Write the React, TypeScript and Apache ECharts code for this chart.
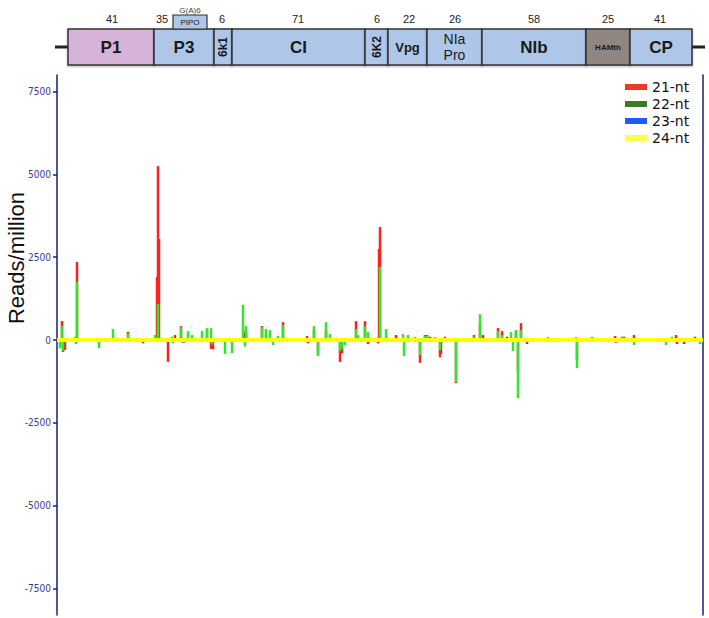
import React, { useEffect, useRef } from "react";
import * as echarts from "echarts";

// genome map (kDa sizes and gene names)
const geneNames = ["P1", "P3", "6k1", "CI", "6K2", "Vpg", "NIa\nPro", "NIb", "HAMth", "CP"];
const geneKDa = ["41", "35", "6", "71", "6", "22", "26", "58", "25", "41"];

// y-axis tick labels
const yTicks = [-7500, -5000, -2500, 0, 2500, 5000, 7500];

// [genome position (nt), reads/million]
const nt21: [number, number][] = [
  [75, 575], [90, -360], [120, -300], [300, 2355], [540, -50], [1065, 250], [1230, -60], [1290, -100],
  [1500, 1900], [1515, 5250], [1530, 3050], [1665, -660], [1770, 150], [1860, 420], [1890, -90],
  [2250, 330], [2310, -270], [2340, -280], [2625, -90], [2715, -60], [2805, 250], [2835, 300],
  [2940, 60], [3075, 420], [3135, 180], [3390, 540], [3750, 120], [3765, -100], [3855, 300],
  [3915, -420], [4035, 300], [4245, -660], [4275, -400], [4485, 570], [4620, 570], [4665, -120],
  [4815, -100], [4830, 2750], [4845, 3410], [5085, 150], [5445, -690], [5520, 150], [5550, 150],
  [5595, 100], [5745, -520], [5760, -420], [5820, 100], [5985, -1300], [6255, 150], [6345, 480],
  [6390, 150], [6615, 360], [6675, 270], [6750, 100], [6885, 270], [6915, -970], [6960, 510],
  [7050, -120], [7800, -600], [8025, 60], [8370, 120], [8385, -80], [8475, 100], [8505, 100],
  [8655, 150], [9285, 150], [9300, -120], [9405, -120], [9570, 100], [9585, -60],
];

const nt22: [number, number][] = [
  [45, -250], [75, 420], [90, -330], [270, 100], [285, -120], [300, 1750], [375, 60], [630, -250],
  [840, 330], [1065, 200], [1230, 60], [1470, 150], [1515, 1090], [1725, 100], [1740, -100],
  [1860, 390], [1905, -90], [1965, 270], [2025, 150], [2175, 270], [2250, 360], [2310, 360],
  [2325, -130], [2520, -420], [2625, -400], [2790, 1060], [2820, -200], [2835, 420], [3075, 390],
  [3135, 330], [3195, 300], [3240, -150], [3315, 120], [3390, 450], [3585, -60], [3690, 60],
  [3855, 420], [3915, -480], [4035, 540], [4095, 180], [4245, -330], [4275, -260], [4320, -150],
  [4485, 330], [4515, 150], [4620, 420], [4665, 240], [4845, 2200], [4935, 330], [5190, 180],
  [5205, -480], [5265, 150], [5370, 90], [5445, -450], [5520, 120], [5550, 120], [5595, 60],
  [5670, 90], [5745, -300], [5985, -1270], [6255, 100], [6345, 780], [6615, 270], [6675, 150],
  [6810, 240], [6840, -330], [6885, 300], [6915, -1750], [6960, 300], [7365, 90], [7785, 90],
  [7800, -850], [8025, 100], [8040, -60], [8475, 90], [8655, -150], [8910, -60], [9135, -150],
  [9225, 100], [9645, -120],
];

const nt23: [number, number][] = [
  [300, 60], [840, 60], [1515, 60], [2310, -60], [2790, 60], [3390, 60], [4605, 60], [4845, 60],
  [4935, 60], [5985, -60], [6345, 60], [6915, -60],
];

const nt24: [number, number][] = [
  [0, 0], [1200, 0], [2400, 0], [3600, 0], [4800, 0], [6000, 0], [7200, 0], [8400, 0], [9690, 0],
];

const X_MAX = 9690;

function buildGraphic() {
  const boxes = [
    [68, 154, "#d6b3d9"], [154, 214, "#aec6e8"], [214, 232, "#aec6e8"], [232, 365, "#aec6e8"],
    [365, 388, "#aec6e8"], [388, 427, "#aec6e8"], [427, 482, "#aec6e8"], [482, 586, "#aec6e8"],
    [586, 630, "#8f8681"], [630, 692, "#aec6e8"],
  ] as [number, number, string][];
  const labelStyle = [
    { size: 17, bold: true, rot: 0 }, { size: 17, bold: true, rot: 0 }, { size: 12, bold: true, rot: Math.PI / 2 },
    { size: 17, bold: true, rot: 0 }, { size: 12, bold: true, rot: Math.PI / 2 }, { size: 13, bold: true, rot: 0 },
    { size: 14, bold: false, rot: 0 }, { size: 17, bold: true, rot: 0 }, { size: 8, bold: true, rot: 0 },
    { size: 17, bold: true, rot: 0 },
  ];
  const kdaX = [112, 162, 222, 298, 377, 409, 455, 534, 608, 660];
  const els: any[] = [];
  els.push({ type: "line", shape: { x1: 55, y1: 47, x2: 68, y2: 47 }, style: { stroke: "#222", lineWidth: 3 } });
  els.push({ type: "line", shape: { x1: 692, y1: 47, x2: 705, y2: 47 }, style: { stroke: "#222", lineWidth: 3 } });
  boxes.forEach(([x0, x1, fill], i) => {
    els.push({
      type: "rect",
      shape: { x: x0, y: 29, width: x1 - x0, height: 36 },
      style: { fill, stroke: "#333", lineWidth: 1.5, shadowBlur: 2, shadowColor: "rgba(0,0,0,0.3)", shadowOffsetY: 1 },
    });
    const ls = labelStyle[i];
    els.push({
      type: "text",
      x: (x0 + x1) / 2,
      y: 47,
      rotation: ls.rot,
      style: {
        text: geneNames[i],
        fontSize: ls.size,
        fontWeight: ls.bold ? "bold" : "normal",
        fontFamily: "Liberation Sans, Arial, sans-serif",
        fill: "#1a1a1a",
        textAlign: "center",
        textVerticalAlign: "middle",
        lineHeight: ls.size + 2,
      },
      z: 10,
    });
    els.push({
      type: "text",
      x: kdaX[i],
      y: 19,
      style: {
        text: geneKDa[i],
        fontSize: 11,
        fontFamily: "Liberation Sans, Arial, sans-serif",
        fill: "#222",
        textAlign: "center",
        textVerticalAlign: "middle",
      },
    });
  });
  els.push({
    type: "rect",
    shape: { x: 173, y: 15, width: 34, height: 14 },
    style: { fill: "#aec6e8", stroke: "#333", lineWidth: 1.2 },
  });
  els.push({
    type: "text", x: 190, y: 22,
    style: { text: "PIPO", fontSize: 8, fontFamily: "Liberation Sans, Arial, sans-serif", fill: "#222", textAlign: "center", textVerticalAlign: "middle" },
    z: 10,
  });
  els.push({
    type: "text", x: 190, y: 10,
    style: { text: "G(A)6", fontSize: 8, fontFamily: "Liberation Sans, Arial, sans-serif", fill: "#444", textAlign: "center", textVerticalAlign: "middle" },
  });
  els.push({
    type: "text", x: 16, y: 258, rotation: Math.PI / 2,
    style: { text: "Reads/million", fontSize: 22, fontFamily: "Liberation Sans, Arial, sans-serif", fill: "#111", textAlign: "center", textVerticalAlign: "middle" },
  });
  return els;
}

export default function App() {
  const ref = useRef<HTMLDivElement>(null);
  useEffect(() => {
    if (!ref.current) return;
    const chart = echarts.init(ref.current, null, { renderer: "svg" });
    const barCommon = { type: "bar", barWidth: 2.5, barGap: "-100%", xAxisIndex: 0, yAxisIndex: 0 };
    chart.setOption({
      animation: false,
      backgroundColor: "#fff",
      graphic: buildGraphic(),
      grid: { left: 57, right: 6, top: 75, bottom: 3, containLabel: false },
      legend: {
        orient: "vertical",
        left: 620,
        top: 75,
        itemWidth: 22,
        itemHeight: 6,
        itemGap: 3,
        icon: "rect",
        textStyle: { fontSize: 14, color: "#111", fontFamily: "DejaVu Sans, sans-serif", lineHeight: 14 },
        data: [
          { name: "21-nt", itemStyle: { color: "#e8392a" } },
          { name: "22-nt", itemStyle: { color: "#3b7a22" } },
          { name: "23-nt", itemStyle: { color: "#1a5cff" } },
          { name: "24-nt", itemStyle: { color: "#ffff44" } },
        ],
      },
      xAxis: {
        type: "value",
        min: 0,
        max: X_MAX,
        show: false,
      },
      yAxis: [
        {
          type: "value",
          min: -8300,
          max: 8000,
          splitLine: { show: false },
          axisLine: { show: true, lineStyle: { color: "#1c1c7a", width: 1.5 } },
          axisTick: { show: true, length: 4, customValues: yTicks, lineStyle: { color: "#1c1c7a", width: 1.5 } },
          axisLabel: {
            customValues: yTicks,
            formatter: (v: number) => String(v),
            fontSize: 10,
            color: "#3a3a96",
            margin: 6,
            fontFamily: "DejaVu Sans Condensed, DejaVu Sans, sans-serif",
          },
        },
        {
          type: "value",
          position: "right",
          min: -8300,
          max: 8000,
          splitLine: { show: false },
          axisLine: { show: true, lineStyle: { color: "#1c1c7a", width: 1.5 } },
          axisTick: { show: false },
          axisLabel: { show: false },
        },
      ],
      series: [
        { ...barCommon, name: "21-nt", data: nt21, itemStyle: { color: "#ff2020" } },
        { ...barCommon, name: "22-nt", data: nt22, itemStyle: { color: "#2ee82e" } },
        { ...barCommon, name: "23-nt", data: nt23, itemStyle: { color: "#1a3cff" } },
        {
          type: "line",
          name: "24-nt",
          data: nt24,
          symbol: "none",
          lineStyle: { color: "#ffff00", width: 4 },
          itemStyle: { color: "#ffff00" },
          z: 5,
        },
      ],
    });
    return () => chart.dispose();
  }, []);
  return <div ref={ref} style={{ width: 709, height: 618, position: "absolute", left: 0, top: 0 }} />;
}
